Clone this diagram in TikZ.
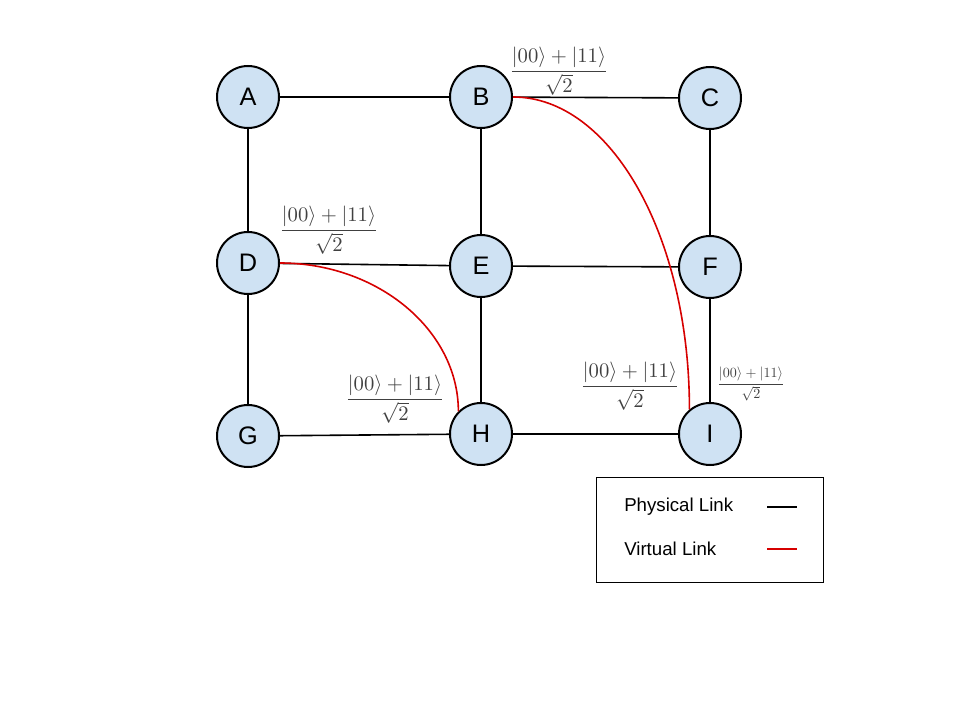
\documentclass[tikz,border=0pt]{standalone}
\usepackage{amsmath}
\usepackage[no-math]{fontspec}
\newfontfamily\arialfont{Liberation Sans}
\usetikzlibrary{positioning}
\definecolor{nodeblue}{RGB}{207,226,243}
\definecolor{linkred}{RGB}{214,0,0}

\begin{document}
\begin{tikzpicture}[x=0.75pt, y=-0.75pt,
  station/.style={circle, draw=black, line width=1.5pt, fill=nodeblue, minimum size=46.5pt, inner sep=0pt, font=\arialfont\fontsize{19}{22}\selectfont},
  physical/.style={line width=1.2pt, black},
  virtual/.style={line width=1.2pt, linkred},
  bell/.style={text=black!75, inner sep=0pt, scale=1.55},
  legendtext/.style={anchor=west, inner sep=0pt, font=\arialfont\fontsize{14}{17}\selectfont}]
\useasboundingbox (0,0) rectangle (960,720);

\node (a) [station] at (248,97) {A};
\node (b) [station] at (481,97) {B};
\node (c) [station] at (710,98) {C};
\node (d) [station] at (248,263) {D};
\node (e) [station] at (481,266) {E};
\node (f) [station] at (710,267) {F};
\node (g) [station] at (248,436) {G};
\node (h) [station] at (481,434) {H};
\node (i) [station] at (710,434) {I};

\draw[physical] (a) -- (b);
\draw[physical] (b) -- (c);
\draw[physical] (a) -- (d);
\draw[physical] (b) -- (e);
\draw[physical] (c) -- (f);
\draw[physical] (d) -- (e);
\draw[physical] (e) -- (f);
\draw[physical] (d) -- (g);
\draw[physical] (e) -- (h);
\draw[physical] (f) -- (i);
\draw[physical] (g) -- (h);
\draw[physical] (h) -- (i);

\draw[virtual] (b.east) .. controls +(98,0) and +(0,-173) .. (i.130);
\draw[virtual] (d.east) .. controls +(98,0) and +(0,-81) .. (h.135);

\node (bellbc) [bell] at (559,71) {$\displaystyle\frac{|00\rangle+|11\rangle}{\sqrt{2}}$};
\node (bellde) [bell] at (329,230) {$\displaystyle\frac{|00\rangle+|11\rangle}{\sqrt{2}}$};
\node (bellgh) [bell] at (395,399) {$\displaystyle\frac{|00\rangle+|11\rangle}{\sqrt{2}}$};
\node (bellhi) [bell] at (630,386) {$\displaystyle\frac{|00\rangle+|11\rangle}{\sqrt{2}}$};
\node (bellfi) [bell, scale=0.68] at (751,384) {$\displaystyle\frac{|00\rangle+|11\rangle}{\sqrt{2}}$};

\node (legend) [draw, line width=0.75pt, anchor=north west, minimum width=170.25pt, minimum height=78.75pt] at (596,477) {};
\node (phys) [legendtext] at (624,507) {Physical Link};
\node (virt) [legendtext] at (624,549) {Virtual Link};
\coordinate (phys0) at (767,507);
\coordinate (phys1) at (797,507);
\coordinate (virt0) at (767,549);
\coordinate (virt1) at (797,549);
\draw[line width=0.9pt, black] (phys0) -- (phys1);
\draw[line width=0.9pt, linkred] (virt0) -- (virt1);
\end{tikzpicture}
\end{document}
